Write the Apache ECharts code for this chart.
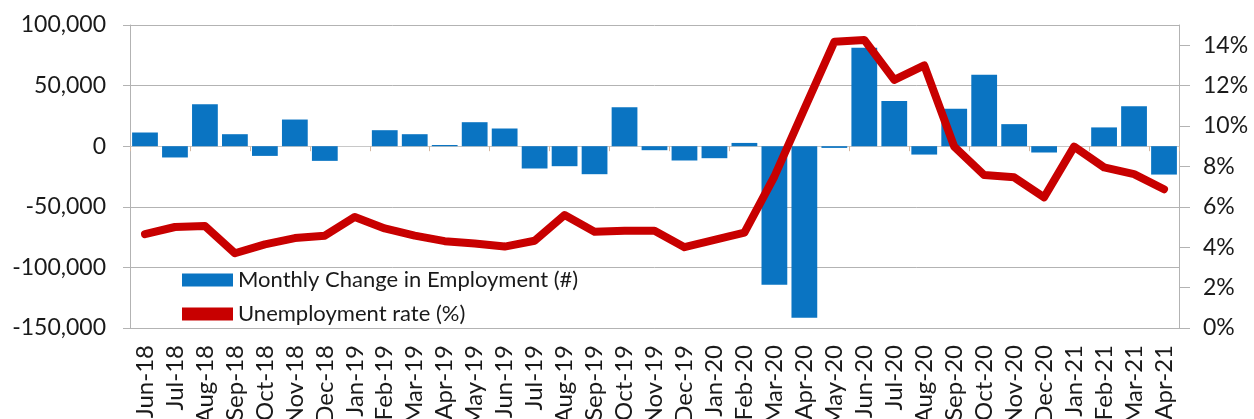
<!DOCTYPE html>
<html>
<head>
<meta charset="utf-8">
<script src="https://cdn.jsdelivr.net/npm/echarts@6/dist/echarts.min.js"></script>
<style>
html,body{margin:0;padding:0;background:#fff;}
#chart{width:1254px;height:419px;}
</style>
</head>
<body>
<div id="chart"></div>
<script>
const categories = ['Jun-18','Jul-18','Aug-18','Sep-18','Oct-18','Nov-18','Dec-18','Jan-19','Feb-19','Mar-19','Apr-19','May-19','Jun-19','Jul-19','Aug-19','Sep-19','Oct-19','Nov-19','Dec-19','Jan-20','Feb-20','Mar-20','Apr-20','May-20','Jun-20','Jul-20','Aug-20','Sep-20','Oct-20','Nov-20','Dec-20','Jan-21','Feb-21','Mar-21','Apr-21'];
const employmentChange = [11300,-9300,34700,9900,-8000,22000,-12100,0,13200,9900,1000,19800,14600,-18400,-16500,-23100,32200,-3300,-11800,-9900,2700,-114300,-141600,-1400,81200,37200,-6900,30800,58900,18200,-5200,0,15500,33000,-23400];
const unemploymentRate = [4.65,5.0,5.05,3.7,4.14,4.45,4.57,5.5,4.93,4.57,4.3,4.18,4.03,4.32,5.59,4.77,4.82,4.82,4.0,4.36,4.72,7.5,10.85,14.17,14.26,12.28,13.0,8.98,7.57,7.46,6.47,8.98,7.95,7.62,6.87];
const leftTicks = { min: -150000, max: 100000, interval: 50000 };
const rightTicks = { min: 0, max: 15, interval: 2 };

const font = 'Lato';
const textColor = '#1a1a1a';
const chart = echarts.init(document.getElementById('chart'));
chart.setOption({
  animation: false,
  backgroundColor: '#fff',
  grid: { left: 130, right: 75, top: 25, bottom: 91, containLabel: false, outerBoundsMode: 'none' },
  legend: {
    orient: 'vertical',
    left: 177, top: 263,
    itemWidth: 51, itemHeight: 13, itemGap: 10,
    icon: 'rect',
    textStyle: { fontFamily: font, fontSize: 22, color: textColor, lineHeight: 24 },
    data: ['Monthly Change in Employment (#)', 'Unemployment rate (%)']
  },
  xAxis: [{
    type: 'category', data: categories, position: 'bottom',
    axisLine: { onZero: false, lineStyle: { color: '#b3b3b3' } },
    axisTick: { show: false },
    axisLabel: { rotate: 90, margin: 17, fontFamily: font, fontSize: 24, color: textColor, interval: 0 }
  }, {
    type: 'category', data: categories, position: 'bottom',
    axisLine: { onZero: true, lineStyle: { color: '#c8c8c8' } },
    axisTick: { show: true, length: 5, lineStyle: { color: '#d6b8a0' } },
    axisLabel: { show: false }
  }],
  yAxis: [{
    type: 'value', min: leftTicks.min, max: leftTicks.max, interval: leftTicks.interval,
    axisLine: { show: true, lineStyle: { color: '#b3b3b3' } },
    axisTick: { show: true, length: 7, lineStyle: { color: '#b3b3b3' } },
    splitLine: { show: true, lineStyle: { color: '#b3b3b3' } },
    axisLabel: { margin: 24, fontFamily: font, fontSize: 23, color: textColor,
      formatter: v => v.toLocaleString('en-US') }
  }, {
    type: 'value', min: rightTicks.min, max: rightTicks.max, interval: rightTicks.interval,
    position: 'right',
    axisLine: { show: true, lineStyle: { color: '#b3b3b3' } },
    axisTick: { show: true, length: 11, lineStyle: { color: '#b3b3b3' } },
    splitLine: { show: false },
    axisLabel: { margin: 24, fontFamily: font, fontSize: 23, color: textColor, showMaxLabel: false,
      formatter: v => v + '%' }
  }],
  series: [{
    name: 'Monthly Change in Employment (#)', type: 'bar', data: employmentChange,
    xAxisIndex: 0, yAxisIndex: 0,
    barCategoryGap: '14%',
    itemStyle: { color: '#0a74c2' }
  }, {
    name: 'Unemployment rate (%)', type: 'line', data: unemploymentRate,
    xAxisIndex: 0, yAxisIndex: 1,
    symbol: 'none', smooth: false, z: 5,
    itemStyle: { color: '#c80000' },
    lineStyle: { color: '#c80000', width: 8, join: 'round', cap: 'round' }
  }]
});
</script>
</body>
</html>
